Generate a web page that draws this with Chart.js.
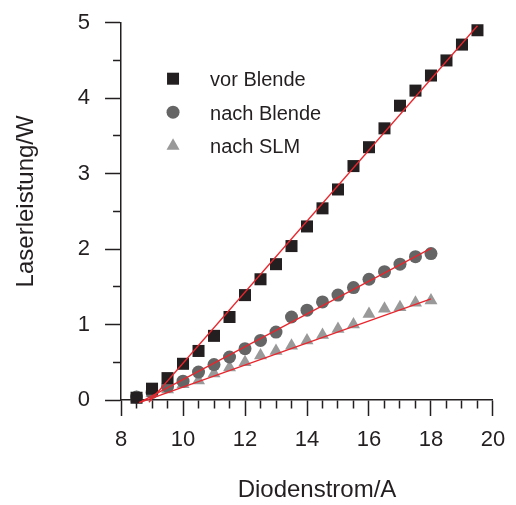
<!DOCTYPE html>
<html>
<head>
<meta charset="utf-8">
<script src="https://cdn.jsdelivr.net/npm/chart.js"></script>
<style>
  body { margin: 0; background: #fff; }
  canvas { display: block; }
</style>
</head>
<body>
<canvas id="grafico" width="516" height="505"></canvas>
<script>
const stromVor = [8.5, 9, 9.5, 10, 10.5, 11, 11.5, 12, 12.5, 13, 13.5, 14, 14.5, 15, 15.5, 16, 16.5, 17, 17.5, 18, 18.5, 19, 19.5];
const vorBlende = [0.03, 0.15, 0.29, 0.48, 0.65, 0.85, 1.10, 1.39, 1.60, 1.80, 2.04, 2.30, 2.54, 2.79, 3.10, 3.35, 3.60, 3.90, 4.10, 4.30, 4.50, 4.71, 4.90];

const stromNach = [8.5, 9, 9.5, 10, 10.5, 11, 11.5, 12, 12.5, 13, 13.5, 14, 14.5, 15, 15.5, 16, 16.5, 17, 17.5, 18];
const nachBlende = [0.04, 0.10, 0.18, 0.25, 0.37, 0.47, 0.57, 0.68, 0.79, 0.90, 1.10, 1.19, 1.30, 1.39, 1.49, 1.60, 1.70, 1.80, 1.90, 1.94];
const nachSLM = [0.03, 0.09, 0.14, 0.21, 0.26, 0.35, 0.43, 0.50, 0.59, 0.65, 0.72, 0.79, 0.86, 0.94, 1.00, 1.14, 1.21, 1.23, 1.29, 1.32];

// Ausgleichsgeraden (Endpunkte)
const fitVorX = [8.9, 19.5];
const fitVorY = [-0.03, 4.96];
const fitBlendeX = [8.59, 18.0];
const fitBlendeY = [-0.035, 2.01];
const fitSlmX = [8.59, 18.0];
const fitSlmY = [-0.035, 1.34];

const titelX = 'Diodenstrom/A';
const titelY = 'Laserleistung/W';

const textFarbe = '#231f20';
const rot = '#e8262d';
const schrift = '"Liberation Sans", Arial, sans-serif';

function punkte(xs, ys) {
  return xs.map((x, i) => ({ x: x, y: ys[i] }));
}

function gerade(xs, ys) {
  return {
    type: 'line',
    data: punkte(xs, ys),
    borderColor: rot,
    borderWidth: 1.3,
    pointRadius: 0,
    fill: false,
    clip: false
  };
}

const legende = [
  { text: 'vor Blende', style: 'rect', farbe: '#231f20' },
  { text: 'nach Blende', style: 'circle', farbe: '#656565' },
  { text: 'nach SLM', style: 'triangle', farbe: '#999999' }
];

// eigene Legende innerhalb der Zeichenfläche
const legendePlugin = {
  id: 'legendeInnen',
  afterDatasetsDraw(chart) {
    const ctx = chart.ctx;
    const area = chart.chartArea;
    ctx.save();
    legende.forEach((l, i) => {
      const x = area.left + 52;
      const y = area.top + 56 + i * 33.5;
      ctx.fillStyle = l.farbe;
      ctx.beginPath();
      if (l.style === 'rect') {
        ctx.rect(x - 6, y - 6, 12, 12);
      } else if (l.style === 'circle') {
        ctx.arc(x, y, 6.5, 0, Math.PI * 2);
      } else {
        ctx.moveTo(x, y - 7.5);
        ctx.lineTo(x + 6.5, y + 4);
        ctx.lineTo(x - 6.5, y + 4);
        ctx.closePath();
      }
      ctx.fill();
      ctx.fillStyle = textFarbe;
      ctx.font = '20px ' + schrift;
      ctx.textAlign = 'left';
      ctx.textBaseline = 'middle';
      ctx.fillText(l.text, area.left + 89, y + 2);
    });
    ctx.restore();
  }
};

// Achsentitel etwas neben der Mitte, wie im Original
const titelPlugin = {
  id: 'achsenTitel',
  afterDraw(chart) {
    const ctx = chart.ctx;
    const area = chart.chartArea;
    ctx.save();
    ctx.fillStyle = textFarbe;
    ctx.font = '24px ' + schrift;
    ctx.textAlign = 'center';
    ctx.textBaseline = 'middle';
    ctx.fillText(titelX, (area.left + area.right) / 2 + 10, 490);
    ctx.translate(26, (area.top + area.bottom) / 2 - 10);
    ctx.rotate(-Math.PI / 2);
    ctx.fillText(titelY, 0, 0);
    ctx.restore();
  }
};

Chart.defaults.font.family = schrift;
Chart.defaults.color = textFarbe;

const ctx = document.getElementById('grafico').getContext('2d');

new Chart(ctx, {
  type: 'scatter',
  data: {
    datasets: [
      gerade(fitVorX, fitVorY),
      gerade(fitBlendeX, fitBlendeY),
      gerade(fitSlmX, fitSlmY),
      {
        label: 'vor Blende',
        data: punkte(stromVor, vorBlende),
        pointStyle: 'rect',
        pointRadius: 8.5,
        backgroundColor: '#231f20',
        borderWidth: 0,
        clip: false
      },
      {
        label: 'nach Blende',
        data: punkte(stromNach, nachBlende),
        pointStyle: 'circle',
        pointRadius: 6.5,
        backgroundColor: '#656565',
        borderWidth: 0,
        clip: false
      },
      {
        label: 'nach SLM',
        data: punkte(stromNach, nachSLM),
        pointStyle: 'triangle',
        pointRadius: 7.5,
        backgroundColor: '#999999',
        borderWidth: 0,
        clip: false
      }
    ]
  },
  options: {
    responsive: false,
    animation: false,
    devicePixelRatio: 1,
    events: [],
    layout: {
      padding: { top: 22.7, right: 16, bottom: 41, left: 62.8 }
    },
    plugins: {
      legend: { display: false },
      tooltip: { enabled: false }
    },
    scales: {
      x: {
        type: 'linear',
        min: 8,
        max: 20,
        border: { display: true, color: textFarbe, width: 1.5 },
        grid: {
          drawOnChartArea: false,
          tickLength: 16,
          tickColor: textFarbe,
          tickWidth: 1.5,
          tickBorderDash: (c) => (c.tick && c.tick.value % 2 === 0) ? [] : [8, 100]
        },
        ticks: {
          stepSize: 0.5,
          autoSkip: false,
          maxRotation: 0,
          padding: 10.8,
          font: { size: 22 },
          callback: (v) => (Number.isInteger(v) && v % 2 === 0) ? v : ''
        }
      },
      y: {
        type: 'linear',
        min: 0,
        max: 5,
        border: { display: true, color: textFarbe, width: 1.5 },
        grid: {
          drawOnChartArea: false,
          tickLength: 16,
          tickColor: textFarbe,
          tickWidth: 1.5,
          tickBorderDash: (c) => (c.tick && Number.isInteger(c.tick.value)) ? [] : [0, 8, 8, 100]
        },
        ticks: {
          stepSize: 0.5,
          autoSkip: false,
          padding: 15,
          font: { size: 22 },
          callback: (v) => Number.isInteger(v) ? v : ''
        },
        afterFit: (scale) => {
          scale.paddingTop = 10;
          scale.paddingBottom = 10;
        }
      }
    }
  },
  plugins: [legendePlugin, titelPlugin]
});
</script>
</body>
</html>
